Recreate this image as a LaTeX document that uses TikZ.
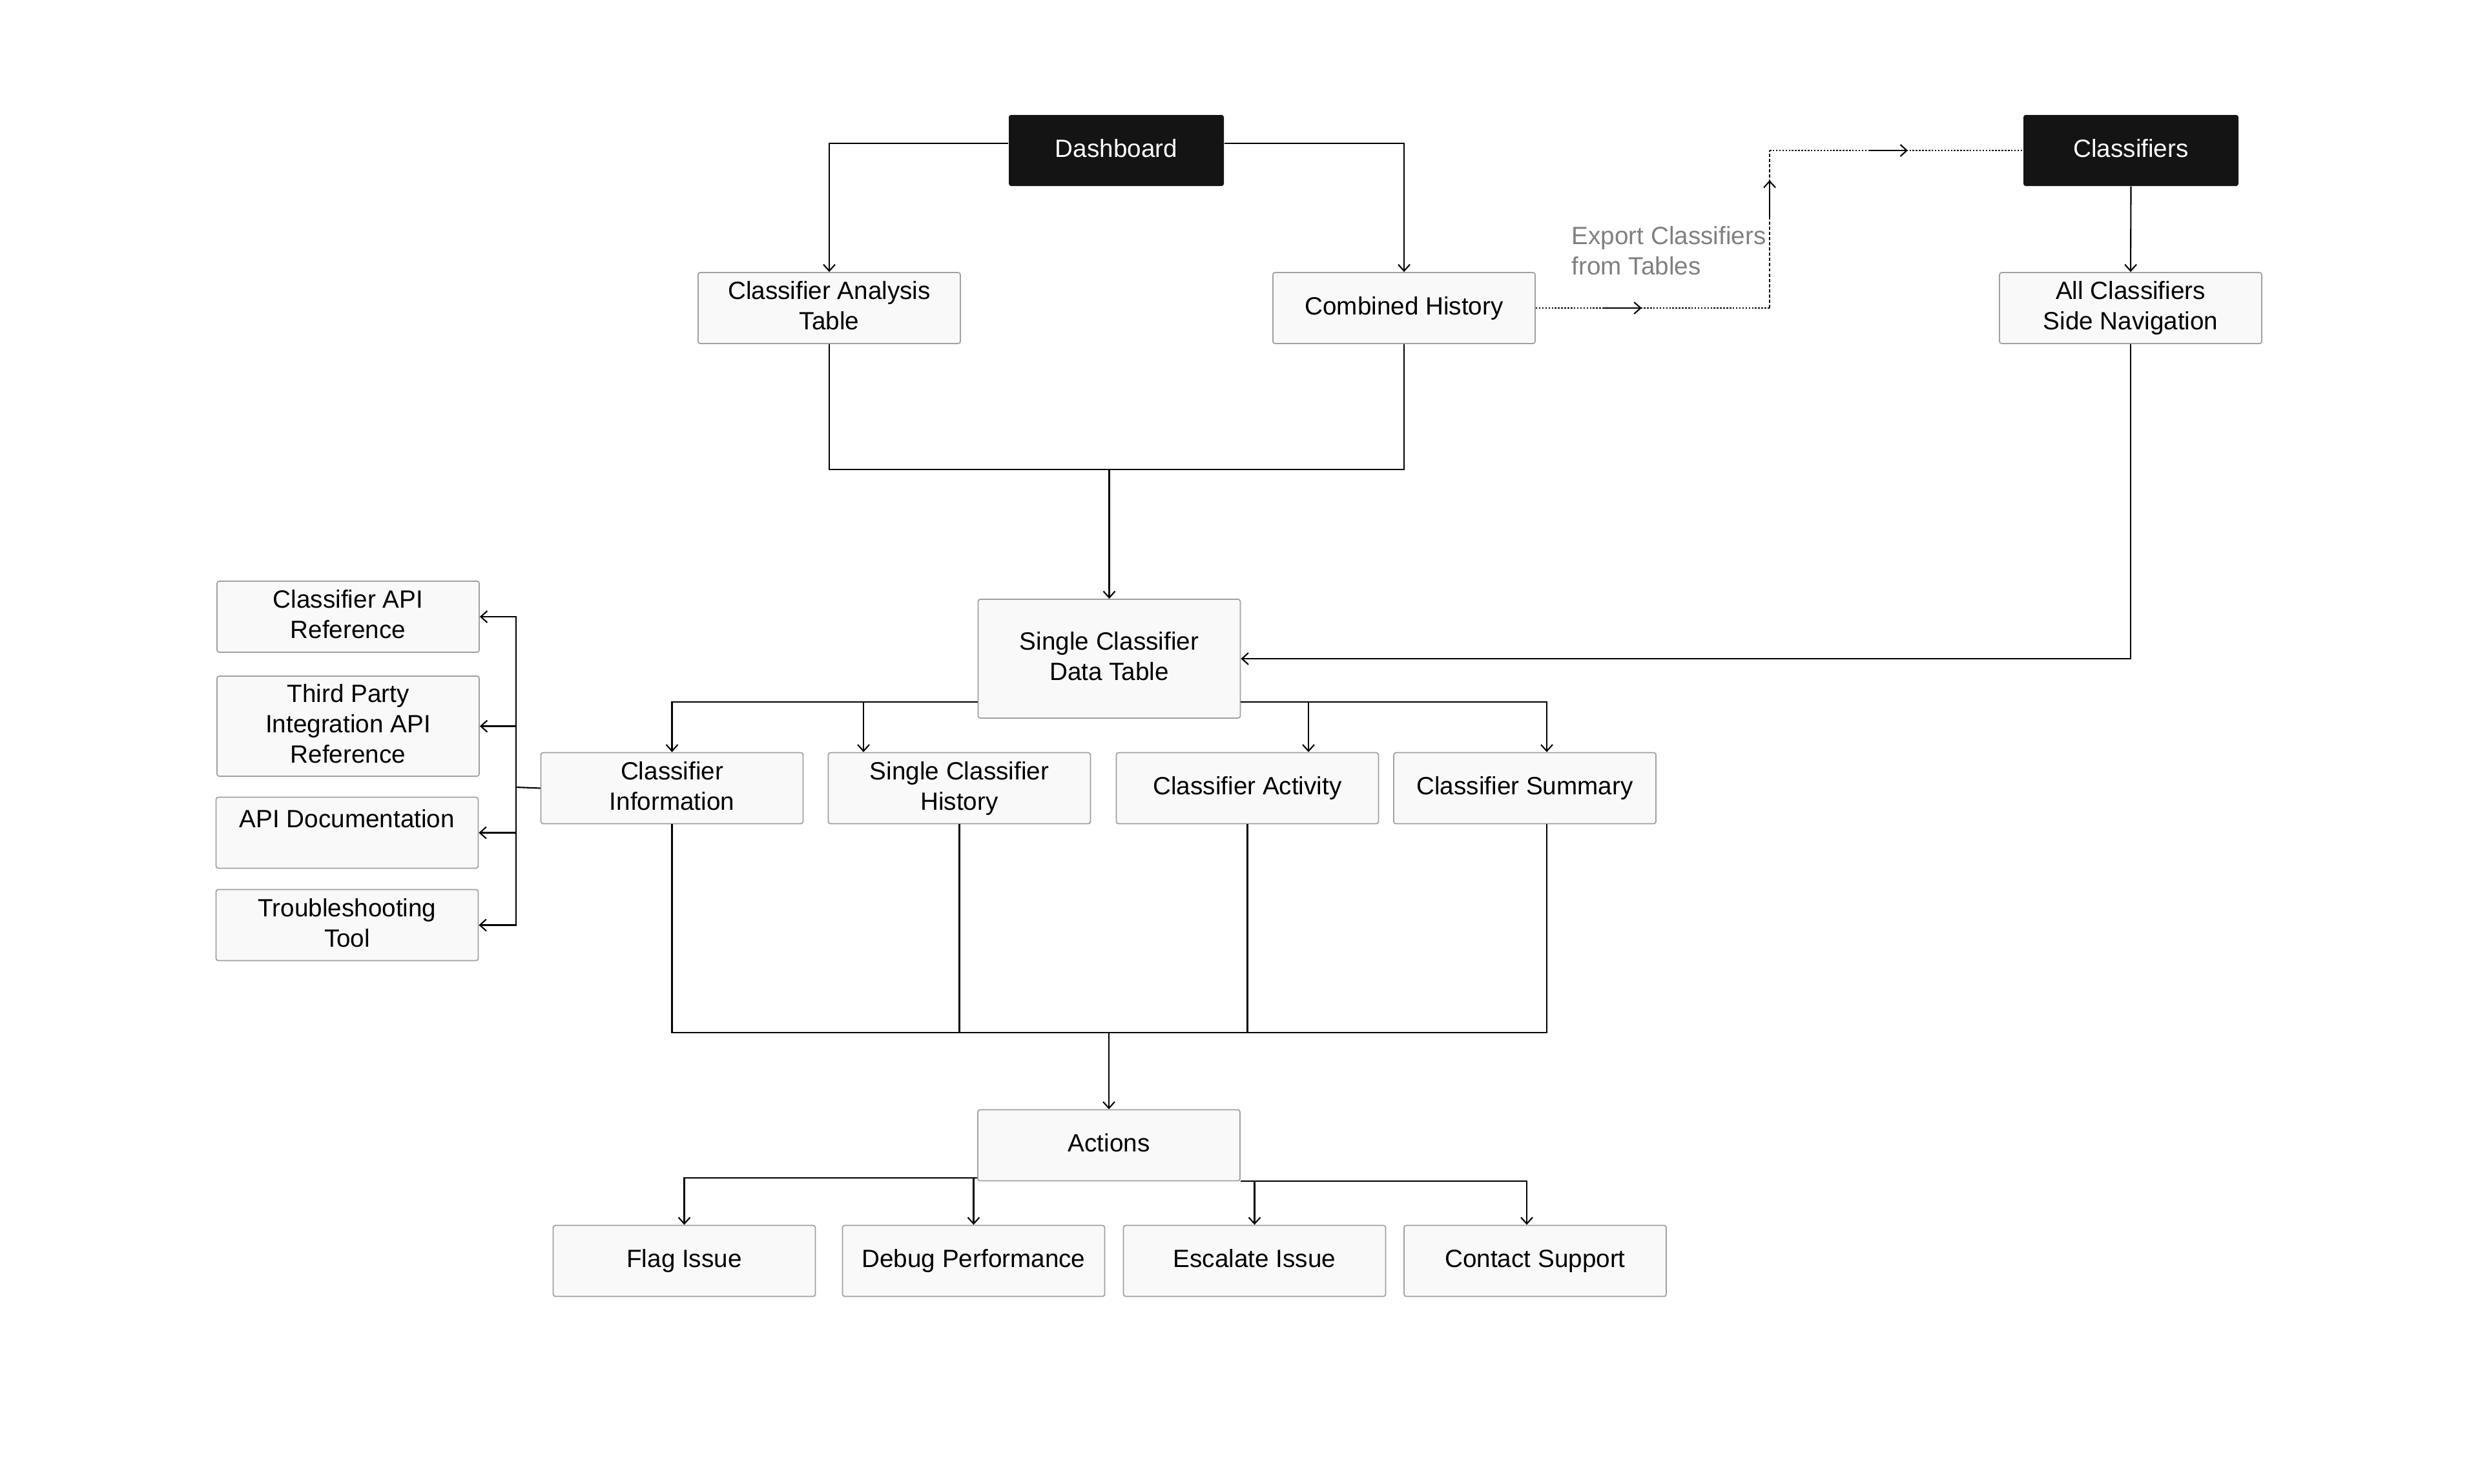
\documentclass[tikz,border=0pt]{standalone}
\usepackage{fontspec}
\setmainfont{Liberation Sans}
\usetikzlibrary{arrows.meta,decorations.markings}
\definecolor{boxfill}{HTML}{F9F9F9}
\definecolor{boxline}{HTML}{A0A0A0}
\definecolor{darkfill}{HTML}{141414}
\definecolor{notegray}{HTML}{808080}
\begin{document}
\begin{tikzpicture}[every node/.style={font=\fontsize{11}{13.4}\selectfont},
  pg/.style={draw=boxline,line width=0.5pt,fill=boxfill,rounded corners=1pt,minimum width=4.06cm,minimum height=1.1cm,align=center,inner sep=0pt,text depth=0.21em},
  darkbox/.style={fill=darkfill,text=white,rounded corners=1pt,minimum width=3.33cm,minimum height=1.1cm,inner sep=0pt,text depth=0.21em},
  wire/.style={line width=0.6pt},
  flow/.style={line width=0.6pt,-{Straight Barb[length=1mm,width=1.8mm]}},
  dots/.style={line width=0.7pt,dash pattern=on 0.7pt off 0.7pt},
  dashes/.style={line width=0.6pt,dash pattern=on 1.4pt off 0.9pt},
  midarr/.style={postaction={decorate,decoration={markings,mark=at position #1 with {\draw[solid,line width=0.6pt,-{Straight Barb[length=1mm,width=1.8mm]}] (-0.6,0) -- (0,0);}}}}]
  \useasboundingbox (0,0) rectangle (38.4,-22.97);
  % top level
  \node[darkbox] (dash) at (17.285,-2.33) {Dashboard};
  \node[darkbox] (cls) at (32.995,-2.33) {Classifiers};
  \node[pg] (cat) at (12.84,-4.77) {Classifier Analysis\\Table};
  \node[pg] (hist) at (21.74,-4.77) {Combined History};
  \node[pg] (side) at (32.99,-4.77) {All Classifiers\\Side Navigation};
  \node[pg,minimum height=1.84cm] (sdt) at (17.175,-10.20) {Single Classifier\\Data Table};
  % detail row
  \foreach \n/\x/\txt in {info/10.405/Classifier\\Information,shist/14.855/Single Classifier\\History,act/19.315/Classifier Activity,summ/23.61/Classifier Summary}
    \node[pg] (\n) at (\x,-12.205) {\txt};
  % docs column
  \node[pg] (apiref) at (5.39,-9.55) {Classifier API\\Reference};
  \node[pg,minimum height=1.55cm] (third) at (5.39,-11.245) {Third Party\\Integration API\\Reference};
  \node[pg] (apidoc) at (5.375,-12.895) {API Documentation\\[-3pt]\mbox{}};
  \node[pg] (trouble) at (5.375,-14.325) {Troubleshooting\\Tool};
  % actions
  \node[pg] (actions) at (17.17,-17.735) {Actions};
  \foreach \n/\x/\txt in {flag/10.595/Flag Issue,debug/15.075/Debug Performance,esc/19.425/Escalate Issue,contact/23.77/Contact Support}
    \node[pg] (\n) at (\x,-19.525) {\txt};
  \node[text=notegray,align=left,inner sep=0pt,anchor=north west] (note) at (24.33,-3.50) {Export Classifiers\\from Tables};
  \coordinate (j1) at (17.175,-7.27);
  \coordinate (j2) at (17.17,-15.99);
  \coordinate (lbus) at (7.99,-12.19);
  \coordinate (e1) at (27.40,-4.77);
  \coordinate (e2) at (27.40,-2.33);
  % connectors
  \draw[flow] ([yshift=0.11cm]dash.west) -| (cat.north);
  \draw[flow] ([yshift=0.11cm]dash.east) -| (hist.north);
  \draw[wire] (cat.south) |- (j1);
  \draw[wire] (hist.south) |- (j1);
  \draw[flow] (j1) -- (sdt.north);
  \draw[flow] (cls.south) -- (side.north);
  \draw[flow] (side.south) |- (sdt.east);
  \draw[dots,midarr=1.64cm] (hist.east) -- (e1);
  \draw[dashes,midarr=1.98cm] (e1) -- (e2);
  \draw[dots,midarr=2.14cm] (e2) -- (cls.west);
  \draw[flow] ([yshift=-0.67cm]sdt.west) -| (info.north);
  \draw[flow] ([yshift=-0.67cm]sdt.west) -| ([xshift=-1.485cm]shist.north);
  \draw[flow] ([yshift=-0.67cm]sdt.east) -| ([xshift=0.945cm]act.north);
  \draw[flow] ([yshift=-0.67cm]sdt.east) -| ([xshift=0.34cm]summ.north);
  \draw[wire] (info.west) -- (lbus);
  \foreach \n in {apiref,third,apidoc,trouble}
    \draw[flow] (lbus) |- (\n.east);
  \foreach \n in {info,shist,act}
    \draw[wire] (\n.south) |- (j2);
  \draw[wire] ([xshift=0.34cm]summ.south) |- (j2);
  \draw[flow] (j2) -- (actions.north);
  \draw[flow] ([yshift=0.05cm]actions.south west) -| (flag.north);
  \draw[flow] ([yshift=0.05cm]actions.south west) -| (debug.north);
  \draw[flow] (actions.south east) -| (esc.north);
  \draw[flow] (actions.south east) -| ([xshift=-0.13cm]contact.north);
\end{tikzpicture}
\end{document}
